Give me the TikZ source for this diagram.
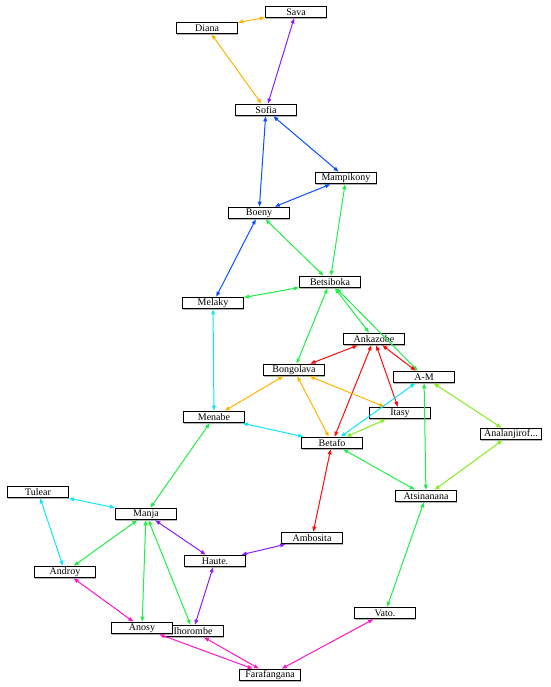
\documentclass[tikz,border=0pt]{standalone}
\usepackage{fontspec}
\setmainfont{Liberation Serif}
\usetikzlibrary{arrows.meta,shadows}
\definecolor{corange}{HTML}{FFB400}
\definecolor{cpurple}{HTML}{8A1EFF}
\definecolor{cblue}{HTML}{0A50FF}
\definecolor{cgreen}{HTML}{1EF046}
\definecolor{ccyan}{HTML}{10E6FA}
\definecolor{cred}{HTML}{FF0A0A}
\definecolor{clime}{HTML}{82F01E}
\definecolor{cmagenta}{HTML}{FF14C8}
\tikzset{
  region/.style={draw=black, line width=1.2pt, fill=white, minimum width=61pt, minimum height=11.5pt,
    inner sep=0pt, font=\fontsize{10}{10}\selectfont,
    drop shadow={shadow xshift=0.9pt, shadow yshift=-0.9pt, fill=gray!60, opacity=1}},
  link/.style={line width=1pt, {Triangle[length=5pt,width=3.8pt]}-{Triangle[length=5pt,width=3.8pt]}}
}
\begin{document}
\begin{tikzpicture}[x=1pt,y=-1pt]
\useasboundingbox (0,0) rectangle (550,687);
\node[region] (sava) at (296,12) {Sava};
\node[region] (diana) at (207,28) {Diana};
\node[region] (sofia) at (266,110) {Sofia};
\node[region] (mampikony) at (346,178) {Mampikony};
\node[region] (boeny) at (259,213) {Boeny};
\node[region] (betsiboka) at (330,282) {Betsiboka};
\node[region] (melaky) at (213,303) {Melaky};
\node[region] (ankazobe) at (374,339) {Ankazobe};
\node[region] (bongolava) at (294,370) {Bongolava};
\node[region] (am) at (424,377) {A-M};
\node[region] (itasy) at (400,413) {Itasy};
\node[region] (menabe) at (214,417) {Menabe};
\node[region] (betafo) at (332,443) {Betafo};
\node[region] (analanjirofo) at (511,434) {Analanjirof...};
\node[region] (atsinanana) at (426,496) {Atsinanana};
\node[region] (tulear) at (38,492) {Tulear};
\node[region] (manja) at (146,514) {Manja};
\node[region] (ambosita) at (312,538) {Ambosita};
\node[region] (haute) at (215,561) {Haute.};
\node[region] (androy) at (65,572) {Androy};
\node[region] (ihorombe) at (193,631) {Ihorombe};
\node[region] (anosy) at (142,628) {Anosy};
\node[region] (farafangana) at (270,675) {Farafangana};
\node[region] (vato) at (385,613) {Vato.};

\draw[link, corange] (diana) -- (sava);
\draw[link, corange] (diana) -- (sofia);
\draw[link, cpurple] (sava) -- (sofia);
\draw[link, cblue] (sofia) -- (boeny);
\draw[link, cblue] (sofia) -- (mampikony);
\draw[link, cblue] (mampikony) -- (boeny);
\draw[link, cblue] (boeny) -- (melaky);
\draw[link, cgreen] (boeny) -- (betsiboka);
\draw[link, cgreen] (mampikony) -- (betsiboka);
\draw[link, cgreen] (melaky) -- (betsiboka);
\draw[link, cgreen] (betsiboka) -- (bongolava);
\draw[link, cgreen] (betsiboka) -- (ankazobe);
\draw[link, cgreen] (betsiboka) -- (am);
\draw[link, ccyan] (melaky) -- (menabe);
\draw[link, cred] (ankazobe) -- (bongolava);
\draw[link, cred] (ankazobe) -- (am);
\draw[link, cred] (ankazobe) -- (betafo);
\draw[link, cred] (ankazobe) -- (itasy);
\draw[link, corange] (bongolava) -- (menabe);
\draw[link, corange] (bongolava) -- (betafo);
\draw[link, corange] (bongolava) -- (itasy);
\draw[link, ccyan] (menabe) -- (betafo);
\draw[link, ccyan] (am) -- (betafo);
\draw[link, clime] (itasy) -- (betafo);
\draw[link, clime] (am) -- (analanjirofo);
\draw[link, clime] (analanjirofo) -- (atsinanana);
\draw[link, cgreen] (am) -- (atsinanana);
\draw[link, cgreen] (betafo) -- (atsinanana);
\draw[link, cred] (betafo) -- (ambosita);
\draw[link, cgreen] (menabe) -- (manja);
\draw[link, cgreen] (atsinanana) -- (vato);
\draw[link, ccyan] (tulear) -- (manja);
\draw[link, ccyan] (tulear) -- (androy);
\draw[link, cgreen] (manja) -- (androy);
\draw[link, cgreen] (manja) -- (anosy);
\draw[link, cgreen] (manja) -- (ihorombe);
\draw[link, cpurple] (manja) -- (haute);
\draw[link, cpurple] (ambosita) -- (haute);
\draw[link, cpurple] (haute) -- (ihorombe);
\draw[link, cmagenta] (androy) -- (anosy);
\draw[link, cmagenta] (anosy) -- (farafangana);
\draw[link, cmagenta] (ihorombe) -- (farafangana);
\draw[link, cmagenta] (vato) -- (farafangana);
\end{tikzpicture}
\end{document}
